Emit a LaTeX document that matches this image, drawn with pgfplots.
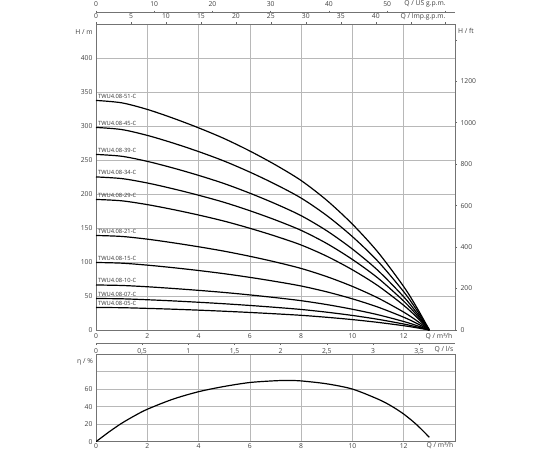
\documentclass[border=0pt]{standalone}
\usepackage{fontspec}
\setmainfont{Open Sans}
\usepackage{pgfplots}
\pgfplotsset{compat=1.18}
\begin{document}
\begin{tikzpicture}[x=1bp,y=1bp]
\pgfplotsset{
  base/.style={scale only axis, width=359bp, anchor=south west,
    tick label style={font=\fontsize{6.8}{8}\selectfont, text=black!75},
    /pgf/number format/assume math mode=true,
    axis line style={black!55, line width=0.6pt},
    tick style={black!60, line width=0.5pt},
  },
  curve/.style={black, line width=1.2pt, smooth, no marks},
}
\tikzset{
  lab/.style={font=\fontsize{5.8}{7}\selectfont, text=black!80, anchor=south west, inner sep=0.6pt},
  nm/.style={font=\fontsize{6.8}{8}\selectfont, text=black!75, inner sep=0pt},
}
% ---------------- upper H(Q) axis ----------------
\begin{axis}[base, at={(96bp,-330bp)}, height=306bp,
  xmin=0, xmax=14, ymin=0, ymax=450,
  xtick={0,2,...,14}, xticklabels={0,2,4,6,8,10,12,},
  ytick={0,50,...,450}, yticklabels={0,50,100,150,200,250,300,350,400,},
  grid=major, grid style={black!28, line width=0.5pt},
  major tick length=0pt, clip=false]
\addplot[curve] coordinates {(0,337.6)(1,334.1)(2,324.4)(3,311.6)(4,297.3)(5,281.5)(6,263.2)(7,242.8)(8,219.8)(9,190.7)(10,155.6)(11,114.2)(12,63.8)(12.5,33.7)(13,0)};
\addplot[curve] coordinates {(0,297.9)(1,294.8)(2,286.2)(3,275.0)(4,262.4)(5,248.4)(6,232.2)(7,214.2)(8,194.0)(9,168.3)(10,137.3)(11,100.8)(12,56.3)(12.5,29.7)(13,0)};
\addplot[curve] coordinates {(0,258.2)(1,255.5)(2,248.0)(3,238.3)(4,227.4)(5,215.3)(6,201.2)(7,185.6)(8,168.1)(9,145.9)(10,119.0)(11,87.4)(12,48.8)(12.5,25.7)(13,0)};
\addplot[curve] coordinates {(0,225.1)(1,222.7)(2,216.2)(3,207.7)(4,198.2)(5,187.7)(6,175.4)(7,161.8)(8,146.5)(9,127.2)(10,103.7)(11,76.2)(12,42.5)(12.5,22.4)(13,0)};
\addplot[curve] coordinates {(0,192.0)(1,190.0)(2,184.4)(3,177.2)(4,169.1)(5,160.1)(6,149.6)(7,138.0)(8,125.0)(9,108.5)(10,88.5)(11,65.0)(12,36.3)(12.5,19.1)(13,0)};
\addplot[curve] coordinates {(0,139.0)(1,137.6)(2,133.6)(3,128.3)(4,122.4)(5,115.9)(6,108.4)(7,100.0)(8,90.5)(9,78.5)(10,64.1)(11,47.0)(12,26.3)(12.5,13.9)(13,0)};
\addplot[curve] coordinates {(0,99.3)(1,98.3)(2,95.4)(3,91.7)(4,87.5)(5,82.8)(6,77.4)(7,71.4)(8,64.7)(9,56.1)(10,45.8)(11,33.6)(12,18.8)(12.5,9.9)(13,0)};
\addplot[curve] coordinates {(0,66.2)(1,65.5)(2,63.6)(3,61.1)(4,58.3)(5,55.2)(6,51.6)(7,47.6)(8,43.1)(9,37.4)(10,30.5)(11,22.4)(12,12.5)(12.5,6.6)(13,0)};
\addplot[curve] coordinates {(0,46.3)(1,45.9)(2,44.5)(3,42.8)(4,40.8)(5,38.6)(6,36.1)(7,33.3)(8,30.2)(9,26.2)(10,21.4)(11,15.7)(12,8.8)(12.5,4.6)(13,0)};
\addplot[curve] coordinates {(0,33.1)(1,32.8)(2,31.8)(3,30.6)(4,29.2)(5,27.6)(6,25.8)(7,23.8)(8,21.6)(9,18.7)(10,15.3)(11,11.2)(12,6.3)(12.5,3.3)(13,0)};
\node[lab] at (axis cs:0.05,339) {TWU4.08-51-C};
\node[lab] at (axis cs:0.05,299.5) {TWU4.08-45-C};
\node[lab] at (axis cs:0.05,260) {TWU4.08-39-C};
\node[lab] at (axis cs:0.05,227) {TWU4.08-34-C};
\node[lab] at (axis cs:0.05,194) {TWU4.08-29-C};
\node[lab] at (axis cs:0.05,141) {TWU4.08-21-C};
\node[lab] at (axis cs:0.05,101) {TWU4.08-15-C};
\node[lab] at (axis cs:0.05,68) {TWU4.08-10-C};
\node[lab] at (axis cs:0.05,48) {TWU4.08-07-C};
\node[lab] at (axis cs:0.05,35) {TWU4.08-05-C};
\end{axis}
% ---------------- right H / ft axis ----------------
\begin{axis}[base, at={(96bp,-330bp)}, height=306bp,
  xmin=0, xmax=14, ymin=0, ymax=1476.38,
  axis x line=none, axis y line*=right,
  ytick={0,200,...,1400}, yticklabels={0,200,400,600,800,1000,1200,},
  major tick length=2bp, tick align=outside]
\addplot[draw=none] coordinates {(0,0)};
\end{axis}
% ---------------- Imp. gpm axis on the box top ----------------
\begin{axis}[base, at={(96bp,-330bp)}, height=306bp,
  xmin=0, xmax=51.326, ymin=0, ymax=1,
  axis y line=none, axis x line*=top,
  xtick={0,5,...,50}, xticklabels={0,5,10,15,20,25,30,35,40,,},
  major tick length=2bp, tick align=outside]
\addplot[draw=none] coordinates {(0,0)};
\end{axis}
% ---------------- US gpm axis ----------------
\begin{axis}[base, at={(96bp,-22.5bp)}, height=10bp,
  xmin=0, xmax=61.64, ymin=0, ymax=1,
  axis y line=none, axis x line*=top,
  xtick={0,10,...,60}, xticklabels={0,10,20,30,40,50,},
  major tick length=2bp, tick align=outside]
\addplot[draw=none] coordinates {(0,0)};
\end{axis}
% ---------------- l/s axis ----------------
\begin{axis}[base, at={(96bp,-343bp)}, height=5bp,
  xmin=0, xmax=3.8889, ymin=0, ymax=1,
  axis y line=none, axis x line*=bottom,
  xtick={0,0.5,...,3.5},
  /pgf/number format/use comma,
  major tick length=2bp, tick align=outside]
\addplot[draw=none] coordinates {(0,0)};
\end{axis}
% ---------------- lower efficiency axis ----------------
\begin{axis}[base, at={(96bp,-441.7bp)}, height=87.7bp,
  xmin=0, xmax=14, ymin=0, ymax=100,
  xtick={0,2,...,14}, xticklabels={0,2,4,6,8,10,12,},
  xticklabel style={yshift=1.8bp},
  ytick={0,20,...,100}, yticklabels={0,20,40,60,,},
  grid=major, grid style={black!28, line width=0.5pt},
  major tick length=0pt]
\addplot[curve] coordinates {(0,0)(0.5,11)(1,21)(1.5,29.5)(2,37)(3,48.5)(4,57)(5,63)(6,67.5)(7,69.5)(7.5,69.8)(8,69.3)(9,66)(10,60)(11,48.5)(11.5,41)(12,31.5)(12.5,19.5)(13,5)};
\end{axis}
% ---------------- axis names ----------------
\node[nm] at (84bp,-32.3bp) {H / m};
\node[nm] at (466bp,-31bp) {H / ft};
\node[nm] at (425bp,-4bp) {Q / US g.p.m.};
\node[nm] at (423bp,-16.5bp) {Q / Imp.g.p.m.};
\node[nm] at (439bp,-336.5bp) {Q / m³/h};
\node[nm] at (444bp,-349bp) {Q / l/s};
\node[nm] at (85bp,-361.7bp) {η / \%};
\node[nm] at (440bp,-445.8bp) {Q / m³/h};
\pgfresetboundingbox
\path[use as bounding box] (0,0) rectangle (550bp,-450bp);
\end{tikzpicture}
\end{document}
